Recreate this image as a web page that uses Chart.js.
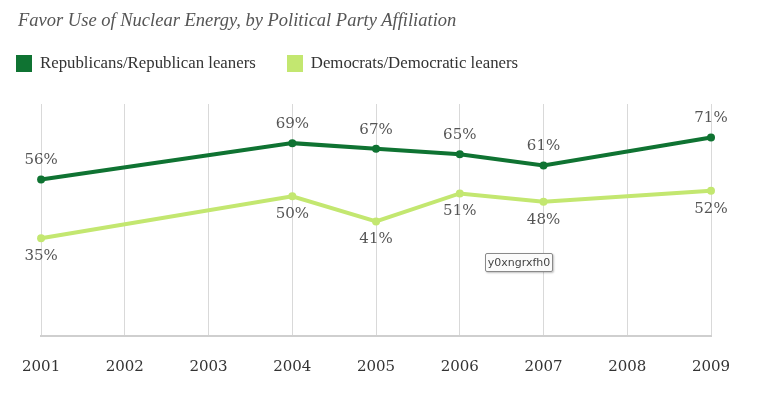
<!DOCTYPE html>
<html>
<head>
<meta charset="utf-8">
<script src="https://cdn.jsdelivr.net/npm/chart.js@4"></script>
<style>
  html, body { margin: 0; padding: 0; background: #fff; }
  #wrap { position: relative; width: 761px; height: 395px; }
  #chart { position: absolute; left: 0; top: 0; }
  #title {
    position: absolute; left: 18px; top: 10px;
    font: italic 18.5px "Liberation Serif", serif; color: #555; white-space: nowrap;
  }
  #legend {
    position: absolute; left: 16px; top: 53px; display: flex; gap: 31px;
    font: 16.8px "Liberation Serif", serif; color: #333; white-space: nowrap;
  }
  #legend .item { display: flex; align-items: center; }
  #legend .box { width: 16px; height: 17px; margin-right: 8px; }
  #tag {
    position: absolute; left: 485px; top: 253px; width: 66px; height: 17px;
    border: 1px solid #8a8a8a; border-radius: 2px; background: #fbfbfb;
    box-shadow: 1px 1px 2px rgba(0,0,0,0.25);
    font: 11px "DejaVu Sans", sans-serif; color: #444; text-align: center; line-height: 17px;
  }
</style>
</head>
<body>
<div id="wrap">
  <canvas id="chart" width="761" height="395"></canvas>
  <div id="title">Favor Use of Nuclear Energy, by Political Party Affiliation</div>
  <div id="legend"></div>
  <div id="tag">y0xngrxfh0</div>
</div>
<script>
const years = ["2001", "2002", "2003", "2004", "2005", "2006", "2007", "2008", "2009"];
const republicans = [56, null, null, 69, 67, 65, 61, null, 71];
const democrats = [35, null, null, 50, 41, 51, 48, null, 52];

const darkGreen = "#0f7332";
const lightGreen = "#c3e770";

// draws the % labels: above the dark line, below the light one
const valueLabels = {
  id: "valueLabels",
  afterDatasetsDraw(chart) {
    const ctx = chart.ctx;
    ctx.save();
    ctx.font = "15px 'DejaVu Serif', serif";
    ctx.fillStyle = "#555";
    ctx.textAlign = "center";
    ctx.textBaseline = "middle";
    chart.data.datasets.forEach((ds, i) => {
      const meta = chart.getDatasetMeta(i);
      meta.data.forEach((pt, j) => {
        if (ds.data[j] == null) return;
        const dy = i === 0 ? -19 : 18;
        ctx.fillText(ds.data[j] + "%", pt.x, pt.y + dy);
      });
    });
    ctx.restore();
  }
};

const chart = new Chart(document.getElementById("chart"), {
  type: "line",
  data: {
    labels: years,
    datasets: [
      {
        label: "Republicans/Republican leaners",
        data: republicans,
        borderColor: darkGreen,
        backgroundColor: darkGreen,
        borderWidth: 4,
        pointRadius: 4,
        pointBorderWidth: 0,
        spanGaps: true,
        tension: 0
      },
      {
        label: "Democrats/Democratic leaners",
        data: democrats,
        borderColor: lightGreen,
        backgroundColor: lightGreen,
        borderWidth: 4,
        pointRadius: 4,
        pointBorderWidth: 0,
        spanGaps: true,
        tension: 0
      }
    ]
  },
  options: {
    responsive: false,
    animation: false,
    layout: { padding: { left: 41, right: 50, top: 104, bottom: -3 } },
    scales: {
      x: {
        grid: { color: "#d9d9d9", lineWidth: 1, drawTicks: false },
        border: { color: "#cfcfcf", width: 2 },
        ticks: {
          color: "#333",
          font: { family: "'DejaVu Serif', serif", size: 15 },
          padding: 22,
          maxRotation: 0
        }
      },
      y: {
        display: false,
        min: 0,
        max: 83
      }
    },
    plugins: {
      legend: { display: false },
      tooltip: { enabled: false }
    }
  },
  plugins: [valueLabels]
});

// html legend built from the datasets
const legendEl = document.getElementById("legend");
chart.data.datasets.forEach(ds => {
  const item = document.createElement("div");
  item.className = "item";
  const box = document.createElement("span");
  box.className = "box";
  box.style.background = ds.borderColor;
  item.appendChild(box);
  item.appendChild(document.createTextNode(ds.label));
  legendEl.appendChild(item);
});
</script>
</body>
</html>
